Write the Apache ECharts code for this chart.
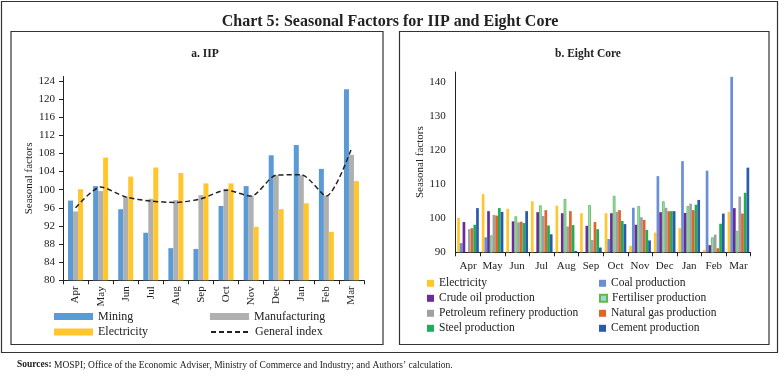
<!DOCTYPE html>
<html><head><meta charset="utf-8">
<script src="https://cdn.jsdelivr.net/npm/echarts@6/dist/echarts.min.js"></script>
<style>html,body{margin:0;padding:0;background:#fff}#c{width:780px;height:381px}</style>
</head><body><div id="c"></div>
<script>
const months = ['Apr','May','Jun','Jul','Aug','Sep','Oct','Nov','Dec','Jan','Feb','Mar'];
// a. IIP
const iipMining = [97.6,100.8,95.7,90.5,87.1,86.9,96.4,100.8,107.6,109.9,104.6,122.2];
const iipManufacturing = [95.2,99.7,98.5,98.0,97.7,98.8,100.2,98.7,103.2,103.2,98.7,107.7];
const iipElectricity = [100.1,107.1,102.9,104.9,103.7,101.4,101.4,91.8,95.7,97.0,90.7,101.9];
const iipGeneral = [96.0,100.6,98.4,97.5,97.2,98.0,99.9,98.6,103.2,103.3,98.6,109.1];
const iipTicks = [80,84,88,92,96,100,104,108,112,116,120,124];
// b. Eight Core
const ecElectricity = [100.2,107.1,102.8,105.0,103.7,101.5,101.5,91.9,95.8,97.1,90.7,101.9];
const ecCoal = [92.7,94.4,89.8,89.8,89.8,89.8,93.9,103.1,112.4,116.8,114.0,141.6];
const ecCrude = [98.9,102.1,99.1,101.8,101.5,97.8,101.5,98.1,101.8,101.6,92.1,103.0];
const ecFertiliser = [89.8,95.0,100.6,103.8,105.7,103.9,106.6,103.6,105.0,103.6,94.4,96.3];
const ecPetroleum = [96.8,101.0,98.8,100.7,97.6,93.6,101.9,100.3,103.1,104.3,95.2,106.4];
const ecNaturalGas = [97.1,100.8,99.0,102.4,102.1,98.9,102.4,99.5,102.1,102.4,91.2,101.4];
const ecSteel = [98.1,103.0,98.6,97.9,98.0,96.8,99.2,96.6,102.1,104.0,98.4,107.5];
const ecCement = [103.0,101.9,102.1,95.3,90.4,91.4,98.3,93.5,102.1,105.4,101.4,114.9];

const SERIF = '"Liberation Serif","DejaVu Serif",serif';
const chart = echarts.init(document.getElementById('c'), null, {renderer:'canvas'});

function leg(name, left, top, w, h, fs, icon){
  const l = {data:[name], left:left, top:top, itemWidth:w, itemHeight:h,
    itemGap:0, padding:0, selectedMode:true,
    textStyle:{fontFamily:SERIF, fontSize:fs, color:'#222', lineHeight:14}};
  if(icon) l.icon = icon;
  return l;
}
const ecNames = ['Electricity','Coal production','Crude oil production','Fertiliser production','Petroleum refinery production','Natural gas production','Steel production','Cement production'];
const ecData = [ecElectricity,ecCoal,ecCrude,ecFertiliser,ecPetroleum,ecNaturalGas,ecSteel,ecCement];
const ecColors = ['#FFC62E','#6A8FD6','#6A2C9A','#9FD8D0','#A0A0A0','#E0652A','#1FAE55','#2A5BAA'];

const genLeg = leg('General index',210,325,39,7,12,null);
genLeg.itemStyle = {color:'transparent',borderColor:'transparent',borderWidth:0};
const legends = [
  leg('Mining',54,309.5,39,7,12,'rect'),
  leg('Electricity',54,325,39,7,12,'rect'),
  leg('Manufacturing',210,309.5,39,7,12,'rect'),
  genLeg
];
const rows=[283.3,298.3,313.3,328.3];
[['Electricity ',0,0],['Crude oil production',0,1],['Petroleum refinery production',0,2],['Steel production',0,3],
 ['Coal production',1,0],['Fertiliser production',1,1],['Natural gas production',1,2],['Cement production',1,3]].forEach(r=>{
  legends.push(leg(r[0], r[1]?599:427, rows[r[2]]-7, 7, 7, 11.5, 'rect'));
});

const series = [
  {name:'Mining',type:'bar',xAxisIndex:0,yAxisIndex:0,data:iipMining,barWidth:5,barGap:'0%',itemStyle:{color:'#5B9BD5'}},
  {name:'Manufacturing',type:'bar',xAxisIndex:0,yAxisIndex:0,data:iipManufacturing,barWidth:5,barGap:'0%',itemStyle:{color:'#B0B0B0'}},
  {name:'Electricity',type:'bar',xAxisIndex:0,yAxisIndex:0,data:iipElectricity,barWidth:5,barGap:'0%',itemStyle:{color:'#FFC62E'}},
  {name:'General index',type:'line',xAxisIndex:0,yAxisIndex:0,data:iipGeneral,smooth:0.25,symbol:'none',
    lineStyle:{color:'#222',width:1.5,type:[5,3]},itemStyle:{color:'#222'}}
];
ecNames.forEach((n,i)=>{
  const s = {name: i===0?'Electricity ':n, type:'bar', xAxisIndex:1, yAxisIndex:1, data:ecData[i],
    barGap:'0%', barCategoryGap:'12%', itemStyle:{color:ecColors[i]}};
  if(n==='Fertiliser production'){ s.itemStyle.borderColor='#5DBB4A'; s.itemStyle.borderWidth=0.8; }
  series.push(s);
});

chart.setOption({
  animation:false,
  textStyle:{fontFamily:SERIF},
  title:[
    {text:'Chart 5: Seasonal Factors for IIP and Eight Core',left:'center',top:9,
      textStyle:{fontFamily:SERIF,fontSize:16,fontWeight:'bold',color:'#222'}},
    {text:'a. IIP',left:200,textAlign:'center',top:43,textStyle:{fontFamily:SERIF,fontSize:11.5,fontWeight:'bold',color:'#222'}},
    {text:'b. Eight Core',left:583,textAlign:'center',top:43,textStyle:{fontFamily:SERIF,fontSize:11.5,fontWeight:'bold',color:'#222'}},
    {text:'{b|Sources:} MOSPI; Office of the Economic Adviser, Ministry of Commerce and Industry; and Authors\u2019 calculation.',
      left:12,top:355,textStyle:{fontFamily:SERIF,fontSize:9.5,fontWeight:'normal',color:'#222',
      rich:{b:{fontFamily:SERIF,fontSize:9.5,fontWeight:'bold',color:'#222'}}}}
  ],
  legend:legends,
  graphic:[
    {type:'rect',shape:{x:1.5,y:1.5,width:776,height:351},style:{fill:'none',stroke:'#333',lineWidth:1.2},silent:true},
    {type:'rect',shape:{x:11,y:31.5,width:372,height:313},style:{fill:'none',stroke:'#333',lineWidth:1.2},silent:true},
    {type:'rect',shape:{x:399.5,y:31.5,width:369.5,height:313},style:{fill:'none',stroke:'#333',lineWidth:1.2},silent:true}
  ],
  grid:[
    {left:63,right:416,top:76.5,bottom:100.7},
    {left:455.7,right:29.3,top:72.1,bottom:128.7}
  ],
  xAxis:[
    {type:'category',gridIndex:0,data:months,boundaryGap:true,
      axisLine:{lineStyle:{color:'#222',width:1}},axisTick:{show:true,length:4,lineStyle:{color:'#222'}},
      axisLabel:{rotate:90,interval:0,fontFamily:SERIF,fontSize:11,color:'#222',margin:6}},
    {type:'category',gridIndex:1,data:months,boundaryGap:true,
      axisLine:{lineStyle:{color:'#222',width:1}},axisTick:{show:true,length:4,interval:0,lineStyle:{color:'#222'}},
      axisLabel:{interval:0,fontFamily:SERIF,fontSize:11,color:'#222',margin:8}}
  ],
  yAxis:[
    {type:'value',gridIndex:0,min:80,max:125,interval:4,name:'Seasonal factors',nameLocation:'middle',nameGap:28,
      nameTextStyle:{fontFamily:SERIF,fontSize:11,color:'#222'},
      axisLine:{show:true,lineStyle:{color:'#222'}},axisTick:{show:true,length:4,lineStyle:{color:'#222'}},
      axisLabel:{fontFamily:SERIF,fontSize:11,color:'#222',margin:8,showMaxLabel:false},splitLine:{show:false}},
    {type:'value',gridIndex:1,min:90,max:143,interval:10,name:'Seasonal factors',nameLocation:'middle',nameGap:28,
      nameTextStyle:{fontFamily:SERIF,fontSize:11,color:'#222'},
      axisLine:{show:true,lineStyle:{color:'#222'}},axisTick:{show:false},
      axisLabel:{fontFamily:SERIF,fontSize:11,color:'#222',margin:10,showMaxLabel:false},splitLine:{show:false}}
  ],
  series:series
});
</script></body></html>
